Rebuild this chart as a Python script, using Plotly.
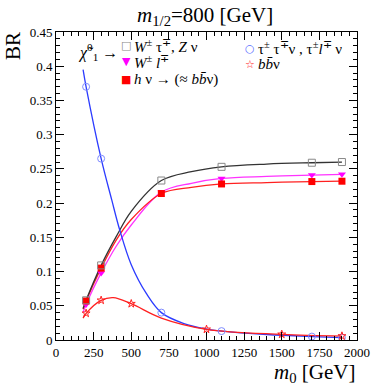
import plotly.graph_objects as go

# --- marker values ---
m0_main = [200, 300, 700, 1100, 1700, 1900]
br_wtau_zv = [0.058, 0.109, 0.233, 0.253, 0.259, 0.260]
br_wl = [0.052, 0.098, 0.216, 0.236, 0.241, 0.242]
br_hv = [0.057, 0.105, 0.214, 0.228, 0.2315, 0.232]
br_tautau = [0.370, 0.265, 0.040, 0.013, 0.005, 0.0035]

m0_bbv = [200, 300, 500, 1000, 1500, 1900]
br_bbv = [0.039, 0.058, 0.053, 0.0156, 0.0083, 0.0058]

# --- fitted curves as seen in the figure ---
curve_m0 = [180, 200, 300, 400, 500, 700, 900, 1100, 1400, 1700, 1900]
curve_wtau_zv = [0.046, 0.058, 0.109, 0.151, 0.188, 0.233, 0.246, 0.253, 0.257, 0.259, 0.260]
curve_wl = [0.040, 0.052, 0.098, 0.137, 0.168, 0.216, 0.229, 0.236, 0.239, 0.241, 0.242]
curve_hv = [0.045, 0.057, 0.105, 0.146, 0.176, 0.214, 0.223, 0.228, 0.230, 0.2315, 0.232]

curve_tau_m0 = [180, 200, 300, 370, 423, 500, 600, 700, 850, 1000, 1100, 1400, 1700, 1900]
curve_tautau = [0.395, 0.370, 0.265, 0.205, 0.161, 0.110, 0.068, 0.040, 0.024, 0.016, 0.013, 0.008, 0.005, 0.0035]

curve_bb_m0 = [180, 200, 300, 380, 500, 700, 1000, 1500, 1900]
curve_bbv = [0.032, 0.039, 0.058, 0.062, 0.053, 0.032, 0.0156, 0.0083, 0.0058]

SERIF = "Liberation Serif"

fig = go.Figure()

def curve(x, y, color):
    fig.add_trace(go.Scatter(x=x, y=y, mode="lines", showlegend=False, hoverinfo="skip",
                             line=dict(color=color, width=1.3, shape="spline", smoothing=1.0)))

curve(curve_m0, curve_wl, "#ff33ff")
curve(curve_m0, curve_hv, "#ff2020")
curve(curve_m0, curve_wtau_zv, "#333333")
curve(curve_tau_m0, curve_tautau, "#2b3bff")
curve(curve_bb_m0, curve_bbv, "#ff2020")

fig.add_trace(go.Scatter(x=m0_main, y=br_wl, mode="markers", showlegend=False,
                         marker=dict(symbol="triangle-down", size=7, color="#ff00ff")))
fig.add_trace(go.Scatter(x=m0_main, y=br_hv, mode="markers", showlegend=False,
                         marker=dict(symbol="square", size=7, color="#ff0000")))
fig.add_trace(go.Scatter(x=m0_main, y=br_wtau_zv, mode="markers", showlegend=False,
                         marker=dict(symbol="square-open", size=7, color="#888888", line=dict(width=1))))
fig.add_trace(go.Scatter(x=m0_main, y=br_tautau, mode="markers", showlegend=False,
                         marker=dict(symbol="circle-open", size=7, color="#7f8cff", line=dict(width=1))))
fig.add_trace(go.Scatter(x=m0_bbv, y=br_bbv, mode="markers", showlegend=False,
                         marker=dict(symbol="star-open", size=6, color="#ff2020", line=dict(width=1))))

axis_common = dict(ticks="inside", mirror="allticks", showline=True, linecolor="black", linewidth=1,
                   showgrid=False, zeroline=False, tickcolor="black", ticklen=8,
                   tickfont=dict(family=SERIF, size=13, color="black"))

fig.update_xaxes(range=[0, 2000], dtick=250, tick0=0,
                 minor=dict(dtick=50, ticklen=4, ticks="inside", tickcolor="black"), **axis_common)
fig.update_yaxes(range=[0, 0.45], dtick=0.05, tick0=0,
                 minor=dict(dtick=0.01, ticklen=4, ticks="inside", tickcolor="black"), **axis_common)

# legend drawn as text, laid out like the original
leg_font = dict(family=SERIF, size=15, color="black")
legend_items = [
    (0.233, 0.955, "□", "#888888", "<i>W</i><sup>±</sup> τ<sup>∓</sup>, <i>Z</i> ν"),
    (0.233, 0.903, "▼", "#ff00ff", "<i>W</i><sup>±</sup> <i>l</i><sup>∓</sup>"),
    (0.233, 0.847, "■", "#ff0000", "<i>h</i> ν → (≈ <i>b</i><i>b̄</i>ν)"),
    (0.645, 0.947, "○", "#6070ff", "τ<sup>±</sup> τ<sup>∓</sup>ν , τ<sup>±</sup><i>l</i><sup>∓</sup> ν"),
    (0.645, 0.895, "☆", "#ff2020", "<i>b</i><i>b̄</i>ν"),
]
for x, y, sym, col, txt in legend_items:
    fig.add_annotation(x=x, y=y, xref="paper", yref="paper", text=sym, showarrow=False,
                       font=dict(family="DejaVu Sans", size=11, color=col), xanchor="center", yanchor="middle")
    fig.add_annotation(x=x + 0.02, y=y, xref="paper", yref="paper", text=txt, showarrow=False,
                       font=leg_font, xanchor="left", yanchor="middle")

fig.add_annotation(x=0.065, y=0.935, xref="paper", yref="paper",
                   text="<i>χ̃</i><sup>0</sup><sub>1</sub> →", showarrow=False,
                   font=dict(family=SERIF, size=16, color="black"), xanchor="left", yanchor="middle")

# axis titles placed as in the original
fig.add_annotation(x=-0.142, y=0.955, xref="paper", yref="paper", text="BR", textangle=-90,
                   showarrow=False, font=dict(family=SERIF, size=21, color="black"),
                   xanchor="center", yanchor="middle")
fig.add_annotation(x=1.0, y=-0.058, xref="paper", yref="paper", text="<i>m</i><sub>0</sub> [GeV]",
                   showarrow=False, font=dict(family=SERIF, size=21, color="black"),
                   xanchor="right", yanchor="top")

fig.update_layout(
    width=382, height=387,
    margin=dict(l=56, r=16, t=32, b=47),
    paper_bgcolor="white", plot_bgcolor="white",
    title=dict(text="<i>m</i><sub>1/2</sub>=800 [GeV]", x=0.537, xanchor="center",
               y=0.962, yanchor="middle", font=dict(family=SERIF, size=21, color="black")),
    showlegend=False,
)

# drop the page's default body margin so the figure fills the window
fig.write_html("out.html", config={"displayModeBar": False},
               post_script="document.body.style.margin='0';")
